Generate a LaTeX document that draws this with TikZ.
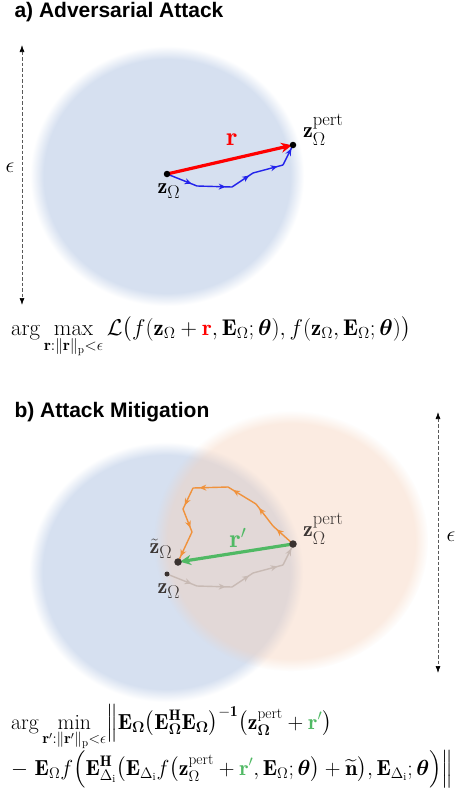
\RequirePackage{fix-cm}
\documentclass[tikz,border=0pt]{standalone}
\usepackage{amsmath,bm}
\usepackage{fontspec}
\newfontfamily\titlefont{Liberation Sans}
\usetikzlibrary{arrows.meta,decorations.markings,calc,fadings}
\definecolor{cblue}{RGB}{214,224,240}
\definecolor{corange}{RGB}{245,204,178}
\definecolor{pathblue}{RGB}{35,35,235}
\definecolor{porange}{RGB}{240,146,60}
\definecolor{pgray}{RGB}{200,186,180}
\definecolor{cgreen}{RGB}{80,185,100}
\definecolor{dotgray}{RGB}{58,50,48}
\definecolor{labgray}{RGB}{60,54,52}
\pgfdeclareradialshading{blueball}{\pgfpoint{0bp}{0bp}}{color(0bp)=(cblue); color(22.5bp)=(cblue); color(25bp)=(white); color(50bp)=(white)}
\newcommand{\lsc}[1]{\hbox{\fontsize{18.5}{20}\selectfont$#1$}}
\tikzset{
  segarrow/.style={postaction={decorate},decoration={markings,mark=at position 0.82 with {\arrow{Stealth[length=7pt,width=6pt]}}}},
  bluepath/.style={draw=pathblue,line width=1.4pt,segarrow,color=pathblue},
  orangepath/.style={draw=porange,line width=1.4pt,segarrow,color=porange},
  graypath/.style={draw=pgray,line width=1.4pt,segarrow,color=pgray},
  epsarrow/.style={draw=gray!70!black,dash pattern=on 3.5pt off 2pt,line width=0.7pt,{Latex[length=7pt,width=5pt,black]}-{Latex[length=7pt,width=5pt,black]}},
  titletext/.style={anchor=base west,font=\titlefont\bfseries\fontsize{21}{25}\selectfont},
  labeltext/.style={font=\fontsize{22}{24}\selectfont},
  epstext/.style={font=\fontsize{22}{24}\selectfont},
  eqtop/.style={anchor=base west,font=\fontsize{22.8}{26}\selectfont,inner sep=0pt},
  eqbot/.style={anchor=base west,font=\fontsize{21.8}{26}\selectfont,inner sep=0pt},
  dotblack/.style={circle,fill=black,inner sep=0pt,minimum size=6.5pt},
  dotdark/.style={circle,fill=dotgray,inner sep=0pt,minimum size=7.5pt}
}
\begin{document}
\begin{tikzpicture}[x=1pt,y=-1pt]
\useasboundingbox (0,0) rectangle (458,798);
\fill[white] (0,0) rectangle (458,798);

% ---------- a) ----------
\node[titletext] (ta) at (11,17) {a) Adversarial Attack};
\shade[shading=blueball] (167,176) ellipse [x radius=137, y radius=130];

\coordinate (ea1) at (22,45);
\coordinate (ea2) at (22,305);
\draw[epsarrow] (ea1) -- (ea2);
\node[epstext] (epsa) at (10,168) {$\epsilon$};

\coordinate (a0) at (167,174);
\coordinate (a1) at (197,186);
\coordinate (a2) at (232,187);
\coordinate (a3) at (253,173);
\coordinate (a4) at (283,165);
\coordinate (a5) at (293,145);
\draw[bluepath] (a0) -- (a1);
\draw[bluepath] (a1) -- (a2);
\draw[bluepath] (a2) -- (a3);
\draw[bluepath] (a3) -- (a4);
\draw[bluepath] (a4) -- (a5);
\draw[red,line width=3.2pt,-{Stealth[length=11pt,width=10pt]},shorten >=1pt] (a0) -- (a5);
\node[dotblack] (za) at (a0) {};
\node[dotblack] (zpa) at (a5) {};
\node[labeltext] (zal) at (169,191) {$\mathbf{z}_{\lsc{\Omega}}$};
\node[labeltext,anchor=west,inner sep=0pt] (zpal) at (303,130) {$\mathbf{z}_{\lsc{\Omega}}^{\lsc{\mathrm{pert}}}$};
\node[font=\fontsize{26}{28}\selectfont,text=red] (rl) at (232,140) {$\mathbf{r}$};

\node[eqtop] (fa) at (11,335) {$\displaystyle \arg\max_{\mathbf{r}:\|\mathbf{r}\|_{\mathrm{p}}<\epsilon}\mathcal{L}\bigl(f(\mathbf{z}_{\Omega}+{\color{red}\mathbf{r}},\mathbf{E}_{\Omega};\bm{\theta}),f(\mathbf{z}_{\Omega},\mathbf{E}_{\Omega};\bm{\theta})\bigr)$};

% ---------- b) ----------
\node[titletext] (tb) at (11,417) {b) Attack Mitigation};
\shade[shading=blueball] (166,572) ellipse [x radius=137, y radius=130];
\fill[corange,fill opacity=0.39,path fading=circle with fuzzy edge 10 percent] (291,541) ellipse [x radius=137, y radius=130];

\coordinate (eb1) at (438,412);
\coordinate (eb2) at (438,673);
\draw[epsarrow] (eb1) -- (eb2);
\node[epstext] (epsb) at (451,537) {$\epsilon$};

\coordinate (b0) at (167,574);
\coordinate (b1) at (197,586);
\coordinate (b2) at (232,587);
\coordinate (b3) at (253,573);
\coordinate (b4) at (283,565);
\coordinate (b5) at (293,545);
\draw[graypath] (b0) -- (b1);
\draw[graypath] (b1) -- (b2);
\draw[graypath] (b2) -- (b3);
\draw[graypath] (b3) -- (b4);
\draw[graypath] (b4) -- (b5);

\coordinate (o0) at (293,544);
\coordinate (o1) at (273,526);
\coordinate (o2) at (256,504);
\coordinate (o3) at (228,487);
\coordinate (o4) at (193,488);
\coordinate (o5) at (183,509);
\coordinate (o6) at (192,532);
\coordinate (o7) at (178,562);
\draw[orangepath] (o0) -- (o1);
\draw[orangepath] (o1) -- (o2);
\draw[orangepath] (o2) -- (o3);
\draw[orangepath] (o3) -- (o4);
\draw[orangepath] (o4) -- (o5);
\draw[orangepath] (o5) -- (o6);
\draw[orangepath] (o6) -- (o7);

\draw[cgreen,line width=3.2pt,-{Stealth[length=11pt,width=10pt]},shorten >=2pt] (o0) -- (o7);
\node[dotdark] (zpb) at (o0) {};
\node[dotdark] (ztb) at (o7) {};
\node[circle,fill=dotgray,inner sep=0pt,minimum size=5pt] (zb) at (b0) {};

\node[labeltext,text=labgray] (zbl) at (169,591) {$\mathbf{z}_{\lsc{\Omega}}$};
\node[labeltext,text=labgray] (ztl) at (161,549) {$\tilde{\mathbf{z}}_{\lsc{\Omega}}$};
\node[labeltext,anchor=west,inner sep=0pt,text=labgray] (zpbl) at (303,529) {$\mathbf{z}_{\lsc{\Omega}}^{\lsc{\mathrm{pert}}}$};
\node[font=\fontsize{26}{28}\selectfont,text=cgreen] (rpl) at (238,538) {$\mathbf{r}'$};

\node[eqbot] (fb1) at (11,729) {$\displaystyle \arg\min_{\mathbf{r}':\|\mathbf{r}'\|_{\mathrm{p}}<\epsilon}\Bigl\|\mathbf{E}_{\bm{\Omega}}\bigl(\mathbf{E}_{\bm{\Omega}}^{\mathbf{H}}\mathbf{E}_{\bm{\Omega}}\bigr)^{-\mathbf{1}}\bigl(\mathbf{z}_{\bm{\Omega}}^{\mathrm{pert}}+{\color{cgreen}\mathbf{r}'}\bigr)$};
\node[eqbot] (fb2) at (11,775) {$\displaystyle -\ \mathbf{E}_{\Omega}f\Bigl(\mathbf{E}_{\Delta_{\mathrm{i}}}^{\mathbf{H}}\bigl(\mathbf{E}_{\Delta_{\mathrm{i}}}f\bigl(\mathbf{z}_{\Omega}^{\mathrm{pert}}+{\color{cgreen}\mathbf{r}'},\mathbf{E}_{\Omega};\bm{\theta}\bigr)+\widetilde{\mathbf{n}}\bigr),\mathbf{E}_{\Delta_{\mathrm{i}}};\bm{\theta}\Bigr)\Bigr\|$};
\end{tikzpicture}
\end{document}
